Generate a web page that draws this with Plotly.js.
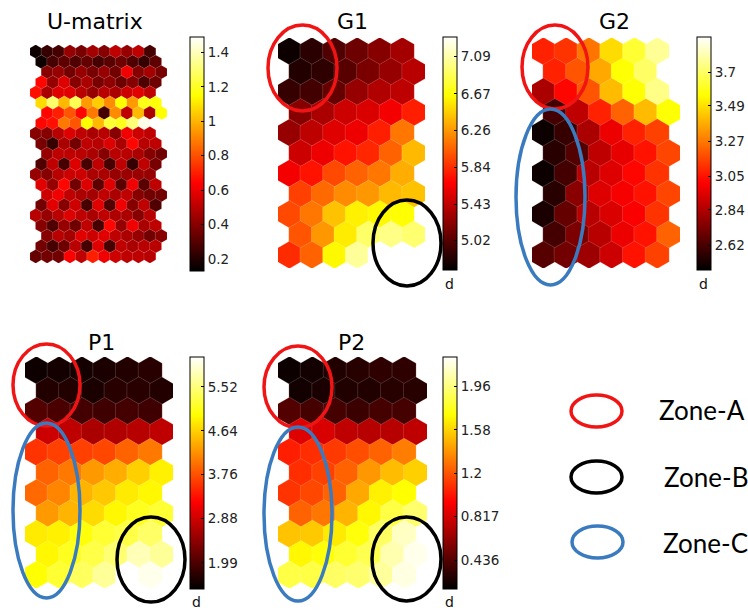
<!DOCTYPE html>
<html><head><meta charset="utf-8">
<script src="https://cdn.plot.ly/plotly-3.0.1.min.js"></script>
<style>html,body{margin:0;padding:0;background:#fff;}#chart{width:748px;height:610px;}</style>
</head><body><div id="chart"></div>
<script>
// ---------- data ----------
const panelTitles = ['U-matrix', 'G1', 'G2', 'P1', 'P2'];
const zoneLabels = ['Zone-A', 'Zone-B', 'Zone-C'];

const umat = [
  [0.16,0.24,0.27,0.43,0.37,0.46,0.40,0.51,0.43,0.51,0.27],
  [0.16,0.27,0.32,0.29,0.33,0.27,0.31,0.35,0.29,0.24,0.32],
  [0.40,0.43,0.36,0.43,0.37,0.43,0.36,0.61,0.40,0.46,0.37],
  [0.65,0.43,0.57,0.40,0.47,0.37,0.42,0.35,0.40,0.29,0.35],
  [0.67,0.47,0.58,0.58,0.50,0.43,0.50,0.47,0.54,0.58,0.51],
  [1.08,1.29,1.01,1.26,0.95,1.05,0.92,1.15,0.95,1.18,1.16],
  [0.65,0.70,0.81,0.65,0.88,0.27,0.92,0.51,1.01,0.47,1.15],
  [0.65,0.67,0.88,0.81,1.15,1.01,1.22,1.19,1.31,1.46,1.49],
  [0.40,0.40,0.50,0.57,0.51,0.47,0.50,0.40,0.61,0.54,0.51],
  [0.37,0.24,0.47,0.36,0.51,0.50,0.57,0.47,0.65,0.50,0.51],
  [0.43,0.51,0.51,0.50,0.47,0.40,0.50,0.50,0.47,0.40,0.36],
  [0.29,0.51,0.27,0.57,0.27,0.51,0.27,0.51,0.24,0.51,0.37],
  [0.43,0.40,0.50,0.54,0.54,0.47,0.47,0.43,0.44,0.44,0.43],
  [0.58,0.43,0.65,0.36,0.57,0.32,0.58,0.31,0.61,0.31,0.51],
  [0.54,0.61,0.51,0.47,0.46,0.51,0.47,0.51,0.40,0.36,0.36],
  [0.36,0.58,0.40,0.54,0.27,0.58,0.29,0.61,0.40,0.51,0.29],
  [0.50,0.43,0.50,0.57,0.51,0.47,0.51,0.48,0.47,0.40,0.50],
  [0.40,0.29,0.43,0.35,0.51,0.27,0.65,0.43,0.61,0.47,0.51],
  [0.40,0.50,0.46,0.58,0.54,0.58,0.51,0.47,0.43,0.36,0.40],
  [0.36,0.27,0.35,0.50,0.27,0.58,0.27,0.51,0.47,0.50,0.50],
  [0.33,0.36,0.36,0.63,0.51,0.70,0.61,0.54,0.51,0.51,0.50]
];
const g1 = [
  [4.74,4.85,5.00,5.11,5.21,5.32],
  [4.82,4.87,5.03,5.16,5.27,5.40],
  [4.90,4.95,5.08,5.27,5.37,5.42],
  [5.21,5.35,5.48,5.53,5.63,5.79],
  [5.27,5.42,5.55,5.61,5.79,6.13],
  [5.48,5.61,5.74,5.82,6.05,6.39],
  [5.63,5.74,5.95,6.05,6.13,6.34],
  [5.92,6.08,6.21,6.26,6.39,6.42],
  [5.95,6.13,6.42,6.60,6.63,6.66],
  [6.00,6.26,6.58,6.92,7.00,6.94],
  [5.84,6.05,6.63,7.05,7.31,7.31]
];
const g2 = [
  [3.08,3.12,3.26,3.48,3.63,3.77],
  [3.08,3.19,3.37,3.56,3.70,3.92],
  [2.83,3.02,3.19,3.41,3.56,3.75],
  [2.61,2.87,3.08,3.22,3.41,3.56],
  [2.49,2.58,2.83,2.97,3.08,3.15],
  [2.55,2.64,2.87,2.96,3.05,3.16],
  [2.49,2.61,2.86,2.94,3.02,3.12],
  [2.55,2.76,2.94,2.99,3.05,3.16],
  [2.52,2.68,2.86,2.93,3.00,3.12],
  [2.61,2.73,2.86,2.97,3.05,3.22],
  [2.65,2.71,2.80,2.90,3.05,3.15]
];
const p1 = [
  [1.56,1.61,1.61,1.65,1.70,1.75],
  [1.70,1.70,1.65,1.75,1.75,1.70],
  [2.03,1.98,1.93,1.89,1.93,1.89],
  [2.86,2.77,2.63,2.68,2.72,2.77],
  [3.56,3.65,3.65,3.70,3.89,4.03],
  [3.89,4.03,4.26,4.40,4.63,4.86],
  [3.93,4.12,4.45,4.58,4.82,4.91],
  [4.26,4.45,4.72,4.91,5.10,5.19],
  [4.82,4.86,5.00,5.19,5.28,5.42],
  [4.91,5.10,5.28,5.47,5.79,5.65],
  [4.96,5.19,5.38,5.65,6.12,6.03]
];
const p2 = [
  [0.22,0.24,0.28,0.30,0.32,0.32],
  [0.24,0.26,0.28,0.28,0.30,0.30],
  [0.43,0.39,0.39,0.36,0.39,0.39],
  [0.85,0.83,0.75,0.73,0.73,0.75],
  [1.04,1.08,1.12,1.18,1.24,1.32],
  [1.08,1.14,1.24,1.40,1.51,1.57],
  [1.10,1.16,1.24,1.45,1.67,1.71],
  [1.24,1.30,1.49,1.69,1.85,1.93],
  [1.53,1.55,1.65,1.73,1.91,2.10],
  [1.69,1.73,1.81,1.87,2.06,2.18],
  [1.85,1.85,1.91,1.93,2.02,2.16]
];

const umatRange = [0.13, 1.49];
const g1Range = [4.69, 7.31];
const g2Range = [2.464, 3.92];
const p1Range = [1.467, 6.12];
const p2Range = [0.182, 2.22];

const umatTicks = [0.2, 0.4, 0.6, 0.8, 1, 1.2, 1.4];
const umatTickText = ['0.2', '0.4', '0.6', '0.8', '1', '1.2', '1.4'];
const g1Ticks = [5.02, 5.43, 5.84, 6.26, 6.67, 7.09];
const g1TickText = ['5.02', '5.43', '5.84', '6.26', '6.67', '7.09'];
const g2Ticks = [2.62, 2.84, 3.05, 3.27, 3.49, 3.7];
const g2TickText = ['2.62', '2.84', '3.05', '3.27', '3.49', '3.7'];
const p1Ticks = [1.99, 2.88, 3.76, 4.64, 5.52];
const p1TickText = ['1.99', '2.88', '3.76', '4.64', '5.52'];
const p2Ticks = [0.436, 0.817, 1.2, 1.58, 1.96];
const p2TickText = ['0.436', '0.817', '1.2', '1.58', '1.96'];

// ---------- layout helpers ----------
const W = 748, H = 610;
const px = x => x / W;
const py = y => 1 - y / H;
const hot = [[0, '#000000'], [0.375, '#ff0000'], [0.75, '#ffff00'], [1, '#ffffff']];

const planeOffset = i => (i % 2) * 0.5;                       // hexa lattice
const umatOffset = i => (i % 2) ? 0.5 : ((i / 2) % 2 ? 1 : 0);  // hexaU lattice

function hexPanel(vals, offsetFn, maxOff, idx, box, range, cbx, cbTop, cbBottom, ticks, tickText) {
  const rows = vals.length, cols = vals[0].length;
  const w = (box[2] - box[0]) / (cols + maxOff);
  const size = w / 0.866;
  const s = (box[3] - box[1] - size) / (rows - 1);
  const a = (size / 2) / s;
  const xs = [], ys = [], cs = [];
  vals.forEach((row, i) => row.forEach((v, j) => { xs.push(j + offsetFn(i)); ys.push(i); cs.push(v); }));
  const sfx = idx === 1 ? '' : String(idx);
  const trace = {
    type: 'scatter', mode: 'markers', x: xs, y: ys,
    xaxis: 'x' + sfx, yaxis: 'y' + sfx, hoverinfo: 'skip', showlegend: false,
    marker: {
      symbol: 'hexagon', size: size * 1.05, color: cs, cmin: range[0], cmax: range[1], colorscale: hot,
      line: { color: 'rgba(255,255,255,0.3)', width: 0.5 },
      colorbar: {
        x: px(cbx), xanchor: 'left', xpad: 0,
        y: py(cbBottom), yanchor: 'bottom', ypad: 0,
        len: (cbBottom - cbTop) / H, lenmode: 'fraction',
        thickness: 14, thicknessmode: 'pixels',
        outlinewidth: 1, outlinecolor: '#000', borderwidth: 0,
        tickmode: 'array', tickvals: ticks, ticktext: tickText,
        ticks: 'inside', ticklen: 3, tickcolor: '#000',
        tickfont: { family: 'DejaVu Sans, sans-serif', size: 13.5, color: '#222' }
      }
    }
  };
  const xa = { domain: [px(box[0]), px(box[2])], range: [-0.5, cols - 0.5 + maxOff], visible: false, fixedrange: true };
  const ya = { domain: [py(box[3]), py(box[1])], range: [rows - 1 + a, -a], visible: false, fixedrange: true };
  return { trace, xa, ya, sfx };
}

const panels = [
  hexPanel(umat, umatOffset, 1, 1, [30, 45, 167, 263], umatRange, 190, 37, 271, umatTicks, umatTickText),
  hexPanel(g1, planeOffset, 0.5, 2, [278, 38, 425, 268], g1Range, 443, 37, 270, g1Ticks, g1TickText),
  hexPanel(g2, planeOffset, 0.5, 3, [532, 38, 680, 268], g2Range, 697, 37, 270, g2Ticks, g2TickText),
  hexPanel(p1, planeOffset, 0.5, 4, [25, 357, 173, 588], p1Range, 190, 357, 589, p1Ticks, p1TickText),
  hexPanel(p2, planeOffset, 0.5, 5, [278, 357, 427, 588], p2Range, 443, 357, 589, p2Ticks, p2TickText)
];

const layout = {
  width: W, height: H,
  margin: { l: 0, r: 0, t: 0, b: 0, autoexpand: false },
  paper_bgcolor: '#fff', plot_bgcolor: 'rgba(0,0,0,0)',
  showlegend: false, shapes: [], annotations: []
};
panels.forEach(p => { layout['xaxis' + p.sfx] = p.xa; layout['yaxis' + p.sfx] = p.ya; });

// titles
const titlePos = [[95, 22], [352, 22], [614, 22], [102, 342], [351, 342]];
panelTitles.forEach((t, k) => layout.annotations.push({
  text: t, xref: 'paper', yref: 'paper', x: px(titlePos[k][0]), y: py(titlePos[k][1]),
  xanchor: 'center', yanchor: 'middle', showarrow: false,
  font: { family: 'DejaVu Sans, sans-serif', size: 22, color: '#000' }
}));
// "d" labels under colorbars
[[443, 284], [697, 284], [190, 602], [443, 602]].forEach(p => layout.annotations.push({
  text: 'd', xref: 'paper', yref: 'paper', x: px(p[0]), y: py(p[1]),
  xanchor: 'left', yanchor: 'middle', showarrow: false,
  font: { family: 'DejaVu Sans, sans-serif', size: 14, color: '#111' }
}));

// zone ellipses
const RED = '#f01414', BLACK = '#000000', BLUE = '#3a7bbf';
function ell(x0, y0, x1, y1, color, w) {
  return { type: 'circle', xref: 'paper', yref: 'paper', layer: 'above',
    x0: px(x0), x1: px(x1), y0: py(y1), y1: py(y0),
    line: { color: color, width: w }, fillcolor: 'rgba(0,0,0,0)' };
}
layout.shapes.push(
  ell(268, 25, 337, 111, RED, 3.5),
  ell(373, 200, 441, 286, BLACK, 3.5),
  ell(522, 25, 588, 109, RED, 3.5),
  ell(516, 109, 585, 285, BLUE, 3.5),
  ell(13, 344, 80, 426, RED, 3.5),
  ell(13, 423, 80, 598, BLUE, 3.5),
  ell(117, 517, 185, 602, BLACK, 3.5),
  ell(264, 346, 332, 428, RED, 3.5),
  ell(264, 427, 332, 601, BLUE, 3.5),
  ell(372, 517, 441, 601, BLACK, 3.5),
  // legend
  ell(571, 395, 622, 427, RED, 3.5),
  ell(571, 461, 622, 493, BLACK, 3.5),
  ell(572, 526, 623, 558, BLUE, 3.5)
);
const zoneTextPos = [[657, 410], [662, 477], [661, 543]];
zoneLabels.forEach((t, k) => layout.annotations.push({
  text: t, xref: 'paper', yref: 'paper', x: px(zoneTextPos[k][0]), y: py(zoneTextPos[k][1]),
  xanchor: 'left', yanchor: 'middle', showarrow: false,
  font: { family: 'Lato, Open Sans, sans-serif', size: 26, color: '#000' }
}));

Plotly.newPlot('chart', panels.map(p => p.trace), layout, { displayModeBar: false, staticPlot: true });
</script>
</body></html>
